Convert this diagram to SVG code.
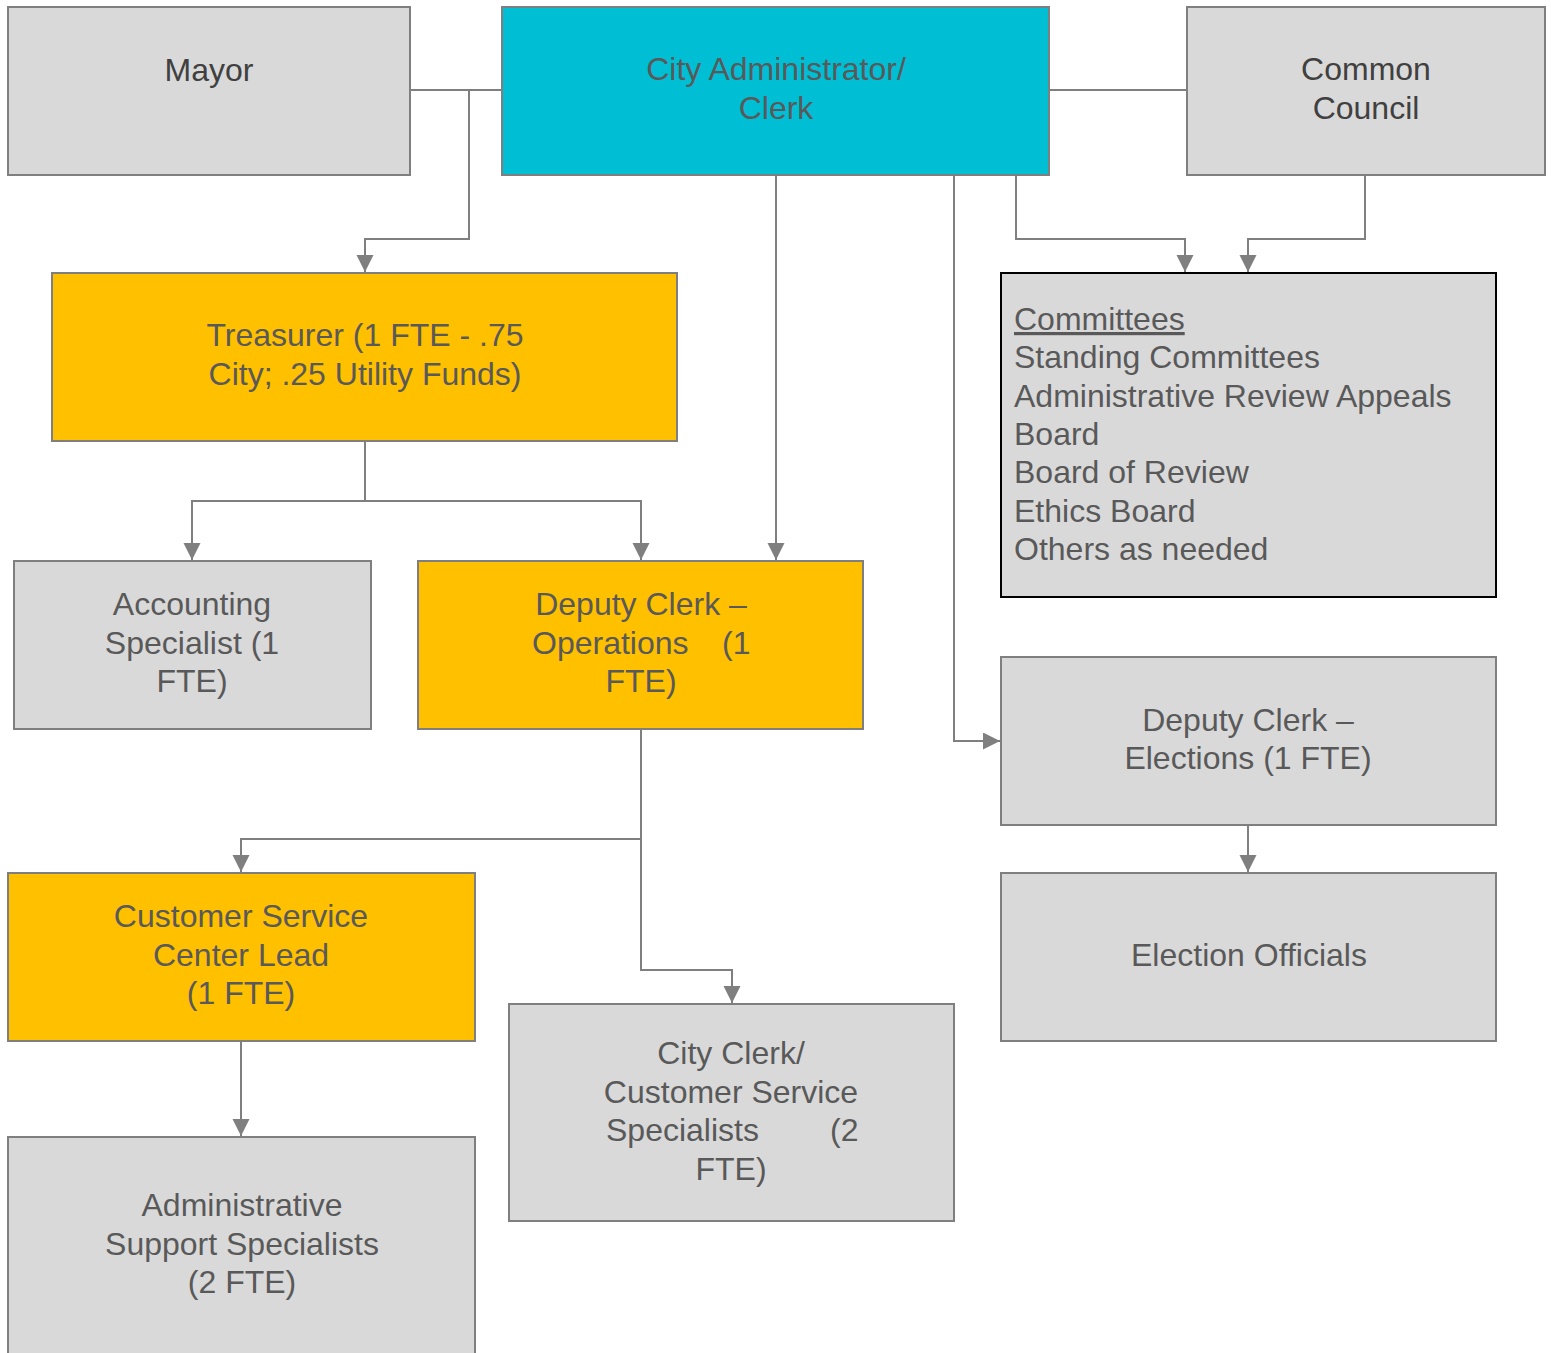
<svg xmlns="http://www.w3.org/2000/svg" width="1551" height="1353" viewBox="0 0 1551 1353">
<style>
.box{stroke:#7f7f7f;stroke-width:2}
.g{fill:#d9d9d9}
.o{fill:#ffc000}
.c{fill:#00bfd5}
.t{font-family:"Liberation Sans",Arial,sans-serif;font-size:32px;fill:#595959;text-anchor:middle}
.d{fill:#404040}
.l{text-anchor:start}
.conn path{fill:none;stroke:#7f7f7f;stroke-width:2}
</style>
<defs>
<marker id="ah" markerUnits="userSpaceOnUse" markerWidth="18" markerHeight="18" refX="17" refY="8.5" orient="auto">
<path d="M0,0 L17,8.5 L0,17 z" fill="#7f7f7f"/>
</marker>
</defs>
<rect width="1551" height="1353" fill="#ffffff"/>
<g class="conn">
<path d="M410,90 H502"/>
<path d="M469,90 V239 H365 V272" marker-end="url(#ah)"/>
<path d="M1049,90 H1187"/>
<path d="M776,175 V560" marker-end="url(#ah)"/>
<path d="M1016,175 V239 H1185 V272" marker-end="url(#ah)"/>
<path d="M1365,175 V239 H1248 V272" marker-end="url(#ah)"/>
<path d="M954,175 V741 H1000" marker-end="url(#ah)"/>
<path d="M365,441 V501 H192 V560" marker-end="url(#ah)"/>
<path d="M365,501 H641 V560" marker-end="url(#ah)"/>
<path d="M641,729 V970 H732 V1003" marker-end="url(#ah)"/>
<path d="M641,839 H241 V872" marker-end="url(#ah)"/>
<path d="M1248,825 V872" marker-end="url(#ah)"/>
<path d="M241,1041 V1136" marker-end="url(#ah)"/>
</g>
<g id="mayor">
<rect class="box g" x="8" y="7" width="402" height="168"/>
<text class="t d" x="209" y="81">Mayor</text>
</g>
<g id="city-admin">
<rect class="box c" x="502" y="7" width="547" height="168"/>
<text class="t" x="776" y="80">City Administrator/</text>
<text class="t" x="776" y="119">Clerk</text>
</g>
<g id="common-council">
<rect class="box g" x="1187" y="7" width="358" height="168"/>
<text class="t d" x="1366" y="80">Common</text>
<text class="t d" x="1366" y="119">Council</text>
</g>
<g id="treasurer">
<rect class="box o" x="52" y="273" width="625" height="168"/>
<text class="t" x="365" y="346">Treasurer (1 FTE - .75</text>
<text class="t" x="365" y="385">City; .25 Utility Funds)</text>
</g>
<g id="committees">
<rect x="1001" y="273" width="495" height="324" fill="#d9d9d9" stroke="#000000" stroke-width="2"/>
<text class="t l" x="1014" y="330" text-decoration="underline">Committees</text>
<text class="t l" x="1014" y="368">Standing Committees</text>
<text class="t l" x="1014" y="407">Administrative Review Appeals</text>
<text class="t l" x="1014" y="445">Board</text>
<text class="t l" x="1014" y="483">Board of Review</text>
<text class="t l" x="1014" y="522">Ethics Board</text>
<text class="t l" x="1014" y="560">Others as needed</text>
</g>
<g id="accounting">
<rect class="box g" x="14" y="561" width="357" height="168"/>
<text class="t" x="192" y="615">Accounting</text>
<text class="t" x="192" y="654">Specialist (1</text>
<text class="t" x="192" y="692">FTE)</text>
</g>
<g id="deputy-ops">
<rect class="box o" x="418" y="561" width="445" height="168"/>
<text class="t" x="641" y="615">Deputy Clerk –</text>
<text class="t l" y="654"><tspan x="532">Operations</tspan><tspan x="722">(1</tspan></text>
<text class="t" x="641" y="692">FTE)</text>
</g>
<g id="deputy-elections">
<rect class="box g" x="1001" y="657" width="495" height="168"/>
<text class="t" x="1248" y="731">Deputy Clerk –</text>
<text class="t" x="1248" y="769">Elections (1 FTE)</text>
</g>
<g id="cs-lead">
<rect class="box o" x="8" y="873" width="467" height="168"/>
<text class="t" x="241" y="927">Customer Service</text>
<text class="t" x="241" y="966">Center Lead</text>
<text class="t" x="241" y="1004">(1 FTE)</text>
</g>
<g id="election-officials">
<rect class="box g" x="1001" y="873" width="495" height="168"/>
<text class="t" x="1249" y="966">Election Officials</text>
</g>
<g id="city-clerk-css">
<rect class="box g" x="509" y="1004" width="445" height="217"/>
<text class="t" x="731" y="1064">City Clerk/</text>
<text class="t" x="731" y="1103">Customer Service</text>
<text class="t l" y="1141"><tspan x="606">Specialists</tspan><tspan x="830">(2</tspan></text>
<text class="t" x="731" y="1180">FTE)</text>
</g>
<g id="admin-support">
<rect class="box g" x="8" y="1137" width="467" height="217"/>
<text class="t" x="242" y="1216">Administrative</text>
<text class="t" x="242" y="1255">Support Specialists</text>
<text class="t" x="242" y="1293">(2 FTE)</text>
</g>
</svg>
